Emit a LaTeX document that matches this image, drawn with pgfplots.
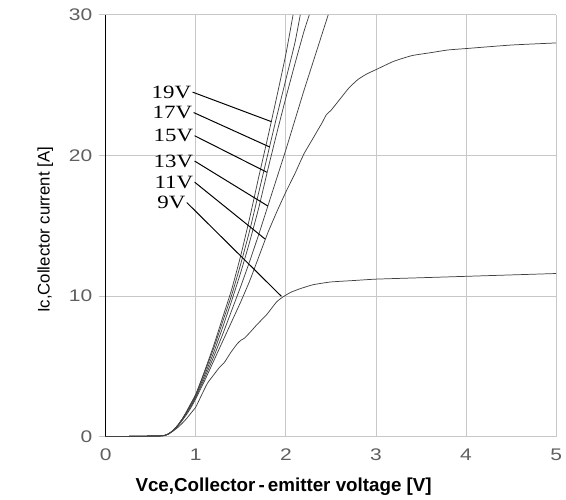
\documentclass[border=0pt]{standalone}
\usepackage{fontspec}
\setmainfont{Liberation Sans}
\newfontfamily\labfont[FakeStretch=1.22]{Liberation Serif}
\newfontfamily\tickfont[FakeStretch=1.25]{Liberation Sans}
\usepackage{pgfplots}
\pgfplotsset{compat=1.18}
\definecolor{gridc}{RGB}{200,200,200}
\definecolor{tickc}{RGB}{95,95,95}
\definecolor{curvec}{RGB}{65,65,65}
\begin{document}
\begin{tikzpicture}
\begin{axis}[
  name=ax,
  scale only axis,
  width=456bp, height=427bp,
  xmin=0, xmax=5, ymin=0, ymax=30,
  xtick={0,1,2,3,4,5}, ytick={0,10,20,30},
  axis x line*=bottom, axis y line*=left,
  separate axis lines,
  x axis line style={draw=none},
  y axis line style={black, line width=1.1pt, -},
  grid=major,
  major grid style={gridc, line width=0.8pt},
  /pgf/number format/assume math mode=true,
  ticklabel style={font=\tickfont\fontsize{17bp}{17bp}\selectfont, text=tickc},
  xtick style={draw=none},
  ytick style={gridc, line width=0.8pt},
  tick align=outside,
  major tick length=7bp,
  yticklabel style={xshift=-3bp},
  xticklabel style={yshift=-2bp},
  xlabel={\bfseries Vce,Collector\,-\,emitter voltage [V]},
  ylabel={Ic,Collector current [A]},
  xlabel style={font=\fontsize{19bp}{19bp}\selectfont, at={(axis description cs:0.395,-0.119)}, anchor=center},
  ylabel style={font=\fontsize{17bp}{17bp}\selectfont, at={(axis description cs:-0.134,0.49)}, anchor=center},
  clip=false,
]
% 9V
\addplot[curvec, line width=0.75pt, smooth, tension=0.3] coordinates {(0,0) (0.3,0.02) (0.6,0.05) (0.65,0.08) (0.7,0.2) (0.75,0.4) (0.8,0.65) (0.85,0.95) (0.9,1.3) (0.95,1.7) (1.0,2.1) (1.06,2.9) (1.13,3.8) (1.2,4.4) (1.26,4.9) (1.32,5.3) (1.39,6.0) (1.46,6.6) (1.5,6.85) (1.54,7.0) (1.6,7.4) (1.67,7.9) (1.73,8.3) (1.79,8.7) (1.85,9.2) (1.9,9.6) (1.96,9.9) (2.05,10.25) (2.15,10.5) (2.3,10.8) (2.5,11.0) (2.75,11.1) (3.0,11.2) (3.5,11.3) (4.0,11.4) (4.5,11.5) (5.0,11.6)};
% 11V
\addplot[curvec, line width=0.75pt, smooth, tension=0.3] coordinates {(0,0) (0.3,0.02) (0.6,0.05) (0.65,0.08) (0.7,0.2) (0.75,0.45) (0.8,0.75) (0.85,1.15) (0.9,1.6) (0.95,2.1) (1.0,2.7) (1.1,4.0) (1.2,5.4) (1.3,6.8) (1.4,8.2) (1.5,9.6) (1.6,11.1) (1.7,12.8) (1.8,14.5) (1.9,16.0) (2.0,17.4) (2.1,18.7) (2.2,20.1) (2.3,21.2) (2.4,22.3) (2.45,22.9) (2.5,23.2) (2.6,24.0) (2.7,24.8) (2.8,25.4) (2.9,25.8) (3.0,26.1) (3.2,26.7) (3.4,27.1) (3.6,27.3) (3.8,27.5) (4.0,27.6) (4.5,27.85) (5.0,28.0)};
% 13V
\addplot[curvec, line width=0.75pt, smooth, tension=0.3] coordinates {(0,0) (0.3,0.02) (0.6,0.05) (0.65,0.08) (0.7,0.2) (0.75,0.45) (0.8,0.8) (0.85,1.2) (0.9,1.7) (0.95,2.2) (1.0,2.8) (1.1,4.2) (1.2,5.7) (1.3,7.3) (1.4,9.0) (1.5,10.7) (1.6,12.5) (1.7,14.4) (1.8,16.4) (1.9,18.4) (2.0,20.4) (2.1,22.5) (2.2,24.6) (2.3,26.6) (2.4,28.6) (2.47,30)};
% 15V
\addplot[curvec, line width=0.75pt, smooth, tension=0.3] coordinates {(0,0) (0.3,0.02) (0.6,0.05) (0.65,0.08) (0.7,0.2) (0.75,0.45) (0.8,0.8) (0.85,1.25) (0.9,1.75) (0.95,2.3) (1.0,2.9) (1.1,4.4) (1.2,6.0) (1.3,7.8) (1.4,9.7) (1.5,11.7) (1.6,13.9) (1.7,16.3) (1.8,19.0) (1.9,21.6) (2.0,24.1) (2.1,26.5) (2.2,28.8) (2.26,30)};
% 17V
\addplot[curvec, line width=0.75pt, smooth, tension=0.3] coordinates {(0,0) (0.3,0.02) (0.6,0.05) (0.65,0.08) (0.7,0.2) (0.75,0.45) (0.8,0.8) (0.85,1.25) (0.9,1.8) (0.95,2.4) (1.0,3.0) (1.1,4.6) (1.2,6.3) (1.3,8.2) (1.4,10.1) (1.5,12.3) (1.6,14.7) (1.7,17.4) (1.8,20.1) (1.9,22.8) (2.0,25.4) (2.1,28.0) (2.16,30)};
% 19V
\addplot[curvec, line width=0.75pt, smooth, tension=0.3] coordinates {(0,0) (0.3,0.02) (0.6,0.05) (0.65,0.08) (0.7,0.2) (0.75,0.45) (0.8,0.8) (0.85,1.25) (0.9,1.8) (0.95,2.4) (1.0,3.0) (1.1,4.7) (1.2,6.5) (1.3,8.5) (1.4,10.5) (1.5,12.9) (1.6,15.6) (1.7,18.5) (1.8,21.3) (1.9,24.2) (2.0,27.2) (2.08,30)};
% labels with leaders
\begin{scope}[every node/.style={font=\labfont\fontsize{19bp}{19bp}\selectfont, anchor=east, inner sep=1bp, text=black}]
\draw[black, line width=1pt] (axis cs:0.965,24.5) node {19V} -- (axis cs:1.84,22.4);
\draw[black, line width=1pt] (axis cs:0.976,23.05) node {17V} -- (axis cs:1.82,20.6);
\draw[black, line width=1pt] (axis cs:0.987,21.4) node {15V} -- (axis cs:1.79,18.8);
\draw[black, line width=1pt] (axis cs:0.987,19.6) node {13V} -- (axis cs:1.80,16.4);
\draw[black, line width=1pt] (axis cs:0.987,18.1) node {11V} -- (axis cs:1.77,14.05);
\draw[black, line width=1pt] (axis cs:0.90,16.65) node {9V} -- (axis cs:1.95,9.98);
\end{scope}
\end{axis}
\pgfresetboundingbox
\path ([xshift=-107bp,yshift=-64bp]ax.south west) rectangle ([xshift=10bp,yshift=15bp]ax.north east);
\end{tikzpicture}
\end{document}
